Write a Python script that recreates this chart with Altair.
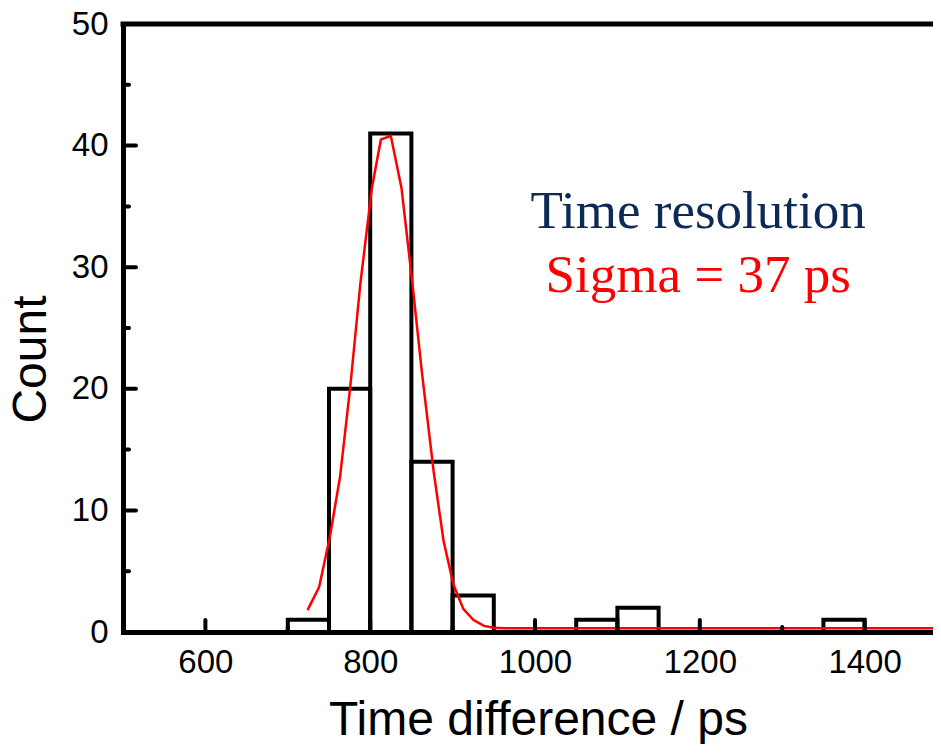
import altair as alt
import pandas as pd

# Histogram bins (ps) and counts
bin_start = [700, 750, 800, 850, 900, 1050, 1100, 1350]
bin_end = [750, 800, 850, 900, 950, 1100, 1150, 1400]
counts = [1, 20, 41, 14, 3, 1, 2, 1]

# Gaussian fit curve
fit_x = [724, 738, 751, 763.5, 776, 788, 802, 813, 825, 838, 851, 863, 877,
         889, 901, 913, 925, 938, 950, 963, 975, 1000, 1100, 1200, 1300, 1400, 1483]
fit_y = [1.8, 3.7, 7.8, 12.8, 20.3, 28.6, 36.5, 40.5, 40.8, 36.5, 28.8, 21.2, 13.2,
         7.5, 3.9, 1.9, 1.0, 0.5, 0.35, 0.3, 0.3, 0.3, 0.3, 0.3, 0.3, 0.3, 0.3]

x_major = [600, 800, 1000, 1200, 1400]
x_minor = [700, 900, 1100, 1300]
y_major = [10, 20, 30, 40]
y_minor = [5, 15, 25, 35, 45]
y_labels = [0, 10, 20, 30, 40, 50]

ann_text = ["Time resolution", "Sigma = 37 ps"]
ann_x = [1198, 1198]
ann_y = [33.2, 28.0]
ann_color = ["#0c2a56", "#ff0000"]

W, H = 810, 608
xs = alt.Scale(domain=[500, 1483], nice=False, zero=False)
ys = alt.Scale(domain=[0, 50], nice=False)

x_axis = alt.Axis(
    values=x_major, title="Time difference / ps", format="d",
    labelPadding=14, titleX=415, titleY=102, titleBaseline="alphabetic",
    titleAlign="center")
y_axis = alt.Axis(
    values=y_labels, title="Count", labelPadding=15,
    titleX=-78, titleY=335, titleAlign="center", titleBaseline="alphabetic",
    titleAngle=270)


def X(f):
    return alt.X(f, scale=xs, axis=x_axis, title="Time difference / ps")


def Y(f):
    return alt.Y(f, scale=ys, axis=y_axis, title="Count")


bars_df = pd.DataFrame({"start": bin_start, "end": bin_end, "count": counts})
fit_df = pd.DataFrame({"x": fit_x, "y": fit_y})
ann_df = pd.DataFrame({"text": ann_text, "x": ann_x, "y": ann_y, "color": ann_color})

bars = alt.Chart(bars_df).mark_rect(
    fill="white", fillOpacity=0, stroke="black", strokeWidth=4, clip=True
).encode(
    x=X("start:Q"),
    x2="end:Q",
    y=Y("count:Q"),
    y2=alt.datum(0),
)

fit = alt.Chart(fit_df).mark_line(color="#ff0000", strokeWidth=2.5, clip=True).encode(
    x=X("x:Q"),
    y=Y("y:Q"),
)

xmaj = alt.Chart(pd.DataFrame({"v": x_major})).mark_rule(
    color="black", strokeWidth=4, strokeCap="round").encode(
    x=X("v:Q"), y=alt.value(H), y2=alt.value(H - 12))
xmin = alt.Chart(pd.DataFrame({"v": x_minor})).mark_rule(
    color="black", strokeWidth=4, strokeCap="round").encode(
    x=X("v:Q"), y=alt.value(H), y2=alt.value(H - 5))
ymaj = alt.Chart(pd.DataFrame({"v": y_major})).mark_rule(
    color="black", strokeWidth=4, strokeCap="round").encode(
    y=Y("v:Q"), x=alt.value(0), x2=alt.value(13))
ymin = alt.Chart(pd.DataFrame({"v": y_minor})).mark_rule(
    color="black", strokeWidth=4, strokeCap="round").encode(
    y=Y("v:Q"), x=alt.value(0), x2=alt.value(6))

top = alt.Chart(pd.DataFrame({"v": [50]})).mark_rule(
    color="black", strokeWidth=5, strokeCap="square").encode(
    y=Y("v:Q"), x=alt.value(0), x2=alt.value(W))

ann = alt.Chart(ann_df).mark_text(
    font="Liberation Serif", fontSize=53, align="center", baseline="alphabetic"
).encode(
    x=X("x:Q"),
    y=Y("y:Q"),
    text="text:N",
    color=alt.Color("color:N", scale=None),
)

chart = alt.layer(bars, fit, xmaj, xmin, ymaj, ymin, top, ann).properties(
    width=W, height=H,
    autosize=alt.AutoSizeParams(type="none"),
    padding={"left": 115, "top": 16, "right": 0, "bottom": 112},
).configure_view(stroke=None).configure_axis(
    domainColor="black", domainWidth=5, domainCap="square",
    ticks=False, tickSize=0, grid=False,
    labelFont="Liberation Sans", labelFontSize=33, labelColor="black",
    titleFont="Liberation Sans", titleFontSize=48, titleFontWeight="normal",
    titleColor="black", labelFlush=False,
)

chart.save("out.html", embed_options={"renderer": "svg", "actions": False})
